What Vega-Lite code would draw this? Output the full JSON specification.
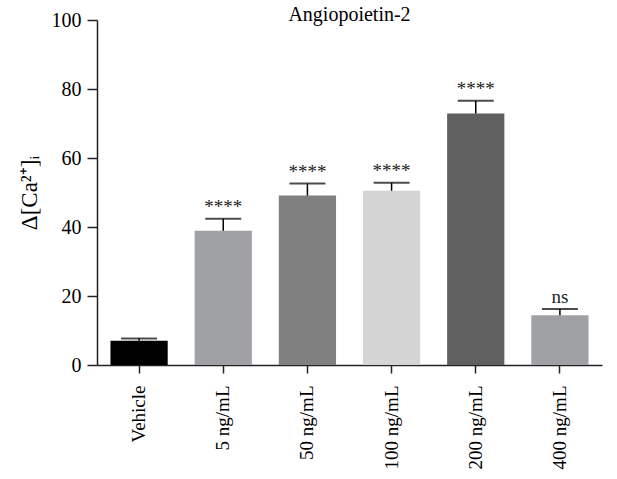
{
  "$schema": "https://vega.github.io/schema/vega-lite/v6.json",
  "autosize": "none",
  "width": 505,
  "height": 345,
  "padding": {"left": 97, "top": 20, "right": 15, "bottom": 114},
  "background": "white",
  "title": {"text": "Angiopoietin-2", "font": "Liberation Serif", "fontSize": 20, "fontWeight": "normal", "frame": "group", "anchor": "middle", "offset": -15, "color": "black"},
  "config": {
    "font": "Liberation Serif",
    "title": {"font": "Liberation Serif"},
    "view": {"stroke": null},
    "axis": {"labelFont": "Liberation Serif", "titleFont": "Liberation Serif", "labelColor": "black", "titleColor": "black", "domainColor": "#222", "tickColor": "#222", "grid": false, "domainWidth": 1.5, "tickWidth": 1.5}
  },
  "data": {"values": [
    {"group": "Vehicle", "mean": 7.0, "upper": 7.7, "label": ""},
    {"group": "5 ng/mL", "mean": 38.9, "upper": 42.4, "label": "****"},
    {"group": "50 ng/mL", "mean": 49.1, "upper": 52.6, "label": "****"},
    {"group": "100 ng/mL", "mean": 50.5, "upper": 52.8, "label": "****"},
    {"group": "200 ng/mL", "mean": 72.9, "upper": 76.6, "label": "****"},
    {"group": "400 ng/mL", "mean": 14.4, "upper": 16.2, "label": "ns"}
  ]},
  "encoding": {
    "x": {"field": "group", "type": "nominal", "sort": null,
      "scale": {"paddingInner": 0.32, "paddingOuter": 0.16},
      "axis": {"title": null, "labelAngle": -90, "labelFontSize": 19, "labelPadding": 12, "tickSize": 8}}
  },
  "layer": [
    {"mark": {"type": "bar"},
     "encoding": {
       "y": {"field": "mean", "type": "quantitative", "scale": {"domain": [0, 100]},
         "axis": {"values": [0, 20, 40, 60, 80, 100], "labelFontSize": 20, "tickSize": 10, "labelPadding": 6, "title": "Δ[Ca²⁺]ᵢ", "titleFontSize": 23, "titleFontWeight": "normal", "titlePadding": 10}},
       "color": {"field": "group", "type": "nominal", "legend": null,
         "scale": {"domain": ["Vehicle", "5 ng/mL", "50 ng/mL", "100 ng/mL", "200 ng/mL", "400 ng/mL"],
                   "range": ["#000000", "#a0a1a5", "#808080", "#d4d4d4", "#5f605f", "#a0a1a5"]}}
     }},
    {"mark": {"type": "rule", "color": "black", "strokeWidth": 1.5},
     "encoding": {"y": {"field": "mean", "type": "quantitative"}, "y2": {"field": "upper"}}},
    {"mark": {"type": "tick", "color": "black", "size": 36, "thickness": 2},
     "encoding": {"y": {"field": "upper", "type": "quantitative"}}},
    {"mark": {"type": "text", "font": "Liberation Serif", "fontSize": 19, "baseline": "bottom", "dy": -2, "color": "#222"},
     "encoding": {"y": {"field": "upper", "type": "quantitative"}, "text": {"field": "label"}}}
  ]
}
